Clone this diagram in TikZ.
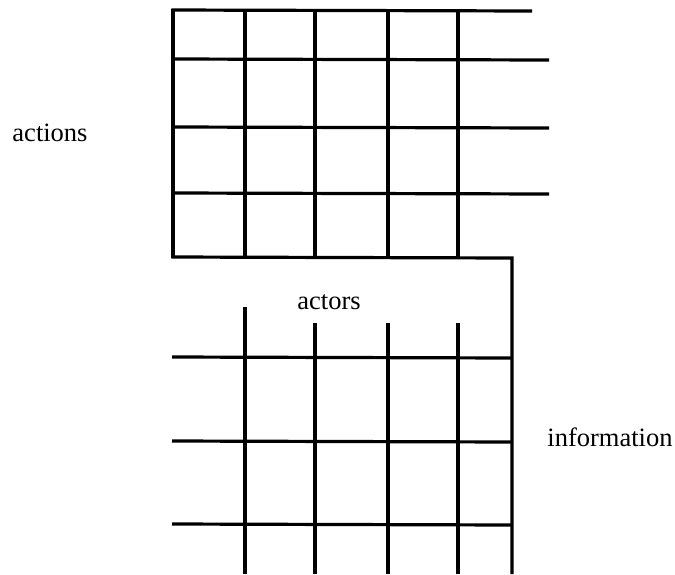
\documentclass[tikz,border=0pt]{standalone}
\usepackage{fontspec}
\setmainfont{Liberation Serif}
\begin{document}
\begin{tikzpicture}[x=1pt,y=-1pt,
  gridline/.style={line width=3.2pt,line cap=butt,line join=miter},
  lbl/.style={font=\fontsize{26.5}{30}\selectfont,inner sep=0pt}]
\useasboundingbox (0,0) rectangle (675,574);
% upper grid
\foreach \x in {173,245,315,388,458}
  \draw[gridline] (\x,9) -- (\x,258);
\draw[gridline] (171.4,10) -- (532,11);
\foreach \y in {59,127,193}
  \draw[gridline] (173,\y) -- (549,\y+1);
\draw[gridline] (171.4,257) -- (512,258) -- (512,574);
% lower grid
\draw[gridline] (245,307) -- (245,574);
\foreach \x in {315,388,458}
  \draw[gridline] (\x,323) -- (\x,574);
\foreach \y in {357,441,524}
  \draw[gridline] (172,\y) -- (512,\y+1);
% labels
\node[lbl] (actions) at (50,133) {actions};
\node[lbl] (actors) at (329,302) {actors};
\node[lbl] (information) at (610,437) {information};
\end{tikzpicture}
\end{document}
